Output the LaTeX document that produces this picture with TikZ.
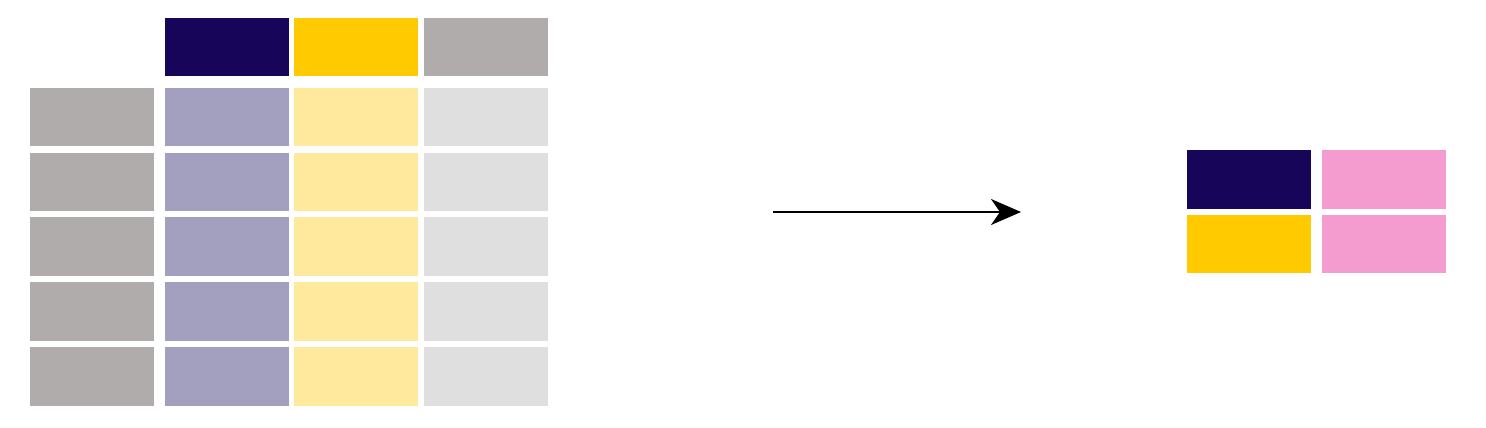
\documentclass[tikz,border=0pt]{standalone}
\usepackage{tikz}
\usetikzlibrary{arrows.meta}
\definecolor{navy}{HTML}{170559}
\definecolor{gold}{HTML}{FFCA00}
\definecolor{stone}{HTML}{AFACAB}
\definecolor{lavender}{HTML}{A39FBF}
\definecolor{cream}{HTML}{FEE99D}
\definecolor{mist}{HTML}{E0DFE0}
\definecolor{rose}{HTML}{F49CD0}
\def\cell[#1](#2,#3)(#4,#5){\fill[#1] (#2, #3) rectangle (#4, #5);}

\begin{document}
\begin{tikzpicture}
			%%%%% START %%%%%
			\useasboundingbox (0, 0) rectangle (14.86, 4.27);
			
			% header
			\cell[navy](1.65, 3.51)(2.89, 4.09);
			\cell[gold](2.94, 3.51)(4.18, 4.09);
			\cell[stone](4.24, 3.51)(5.48, 4.09);
			
			% rows
			\cell[stone](0.30, 2.81)(1.54, 3.39);
			\cell[lavender](1.65, 2.81)(2.89, 3.39);
			\cell[cream](2.94, 2.81)(4.18, 3.39);
			\cell[mist](4.24, 2.81)(5.48, 3.39);
			
			\cell[stone](0.30, 2.16)(1.54, 2.74);
			\cell[lavender](1.65, 2.16)(2.89, 2.74);
			\cell[cream](2.94, 2.16)(4.18, 2.74);
			\cell[mist](4.24, 2.16)(5.48, 2.74);
			
			\cell[stone](0.30, 1.51)(1.54, 2.10);
			\cell[lavender](1.65, 1.51)(2.89, 2.10);
			\cell[cream](2.94, 1.51)(4.18, 2.10);
			\cell[mist](4.24, 1.51)(5.48, 2.10);
			
			\cell[stone](0.30, 0.86)(1.54, 1.45);
			\cell[lavender](1.65, 0.86)(2.89, 1.45);
			\cell[cream](2.94, 0.86)(4.18, 1.45);
			\cell[mist](4.24, 0.86)(5.48, 1.45);
			
			\cell[stone](0.30, 0.21)(1.54, 0.80);
			\cell[lavender](1.65, 0.21)(2.89, 0.80);
			\cell[cream](2.94, 0.21)(4.18, 0.80);
			\cell[mist](4.24, 0.21)(5.48, 0.80);
			
			% arrow
			\coordinate (from) at (7.73, 2.15);
			\coordinate (to) at (10.21, 2.15);
			\draw[line width=0.6pt, -{Stealth[length=3mm, width=2.6mm, inset=0.9mm]}] (from) -- (to);
			
			% result
			\cell[navy](11.87, 2.18)(13.11, 2.77);
			\cell[rose](13.22, 2.18)(14.46, 2.77);
			\cell[gold](11.87, 1.54)(13.11, 2.12);
			\cell[rose](13.22, 1.54)(14.46, 2.12);
			
			%%%%% END %%%%%
		\end{tikzpicture}
\end{document}
